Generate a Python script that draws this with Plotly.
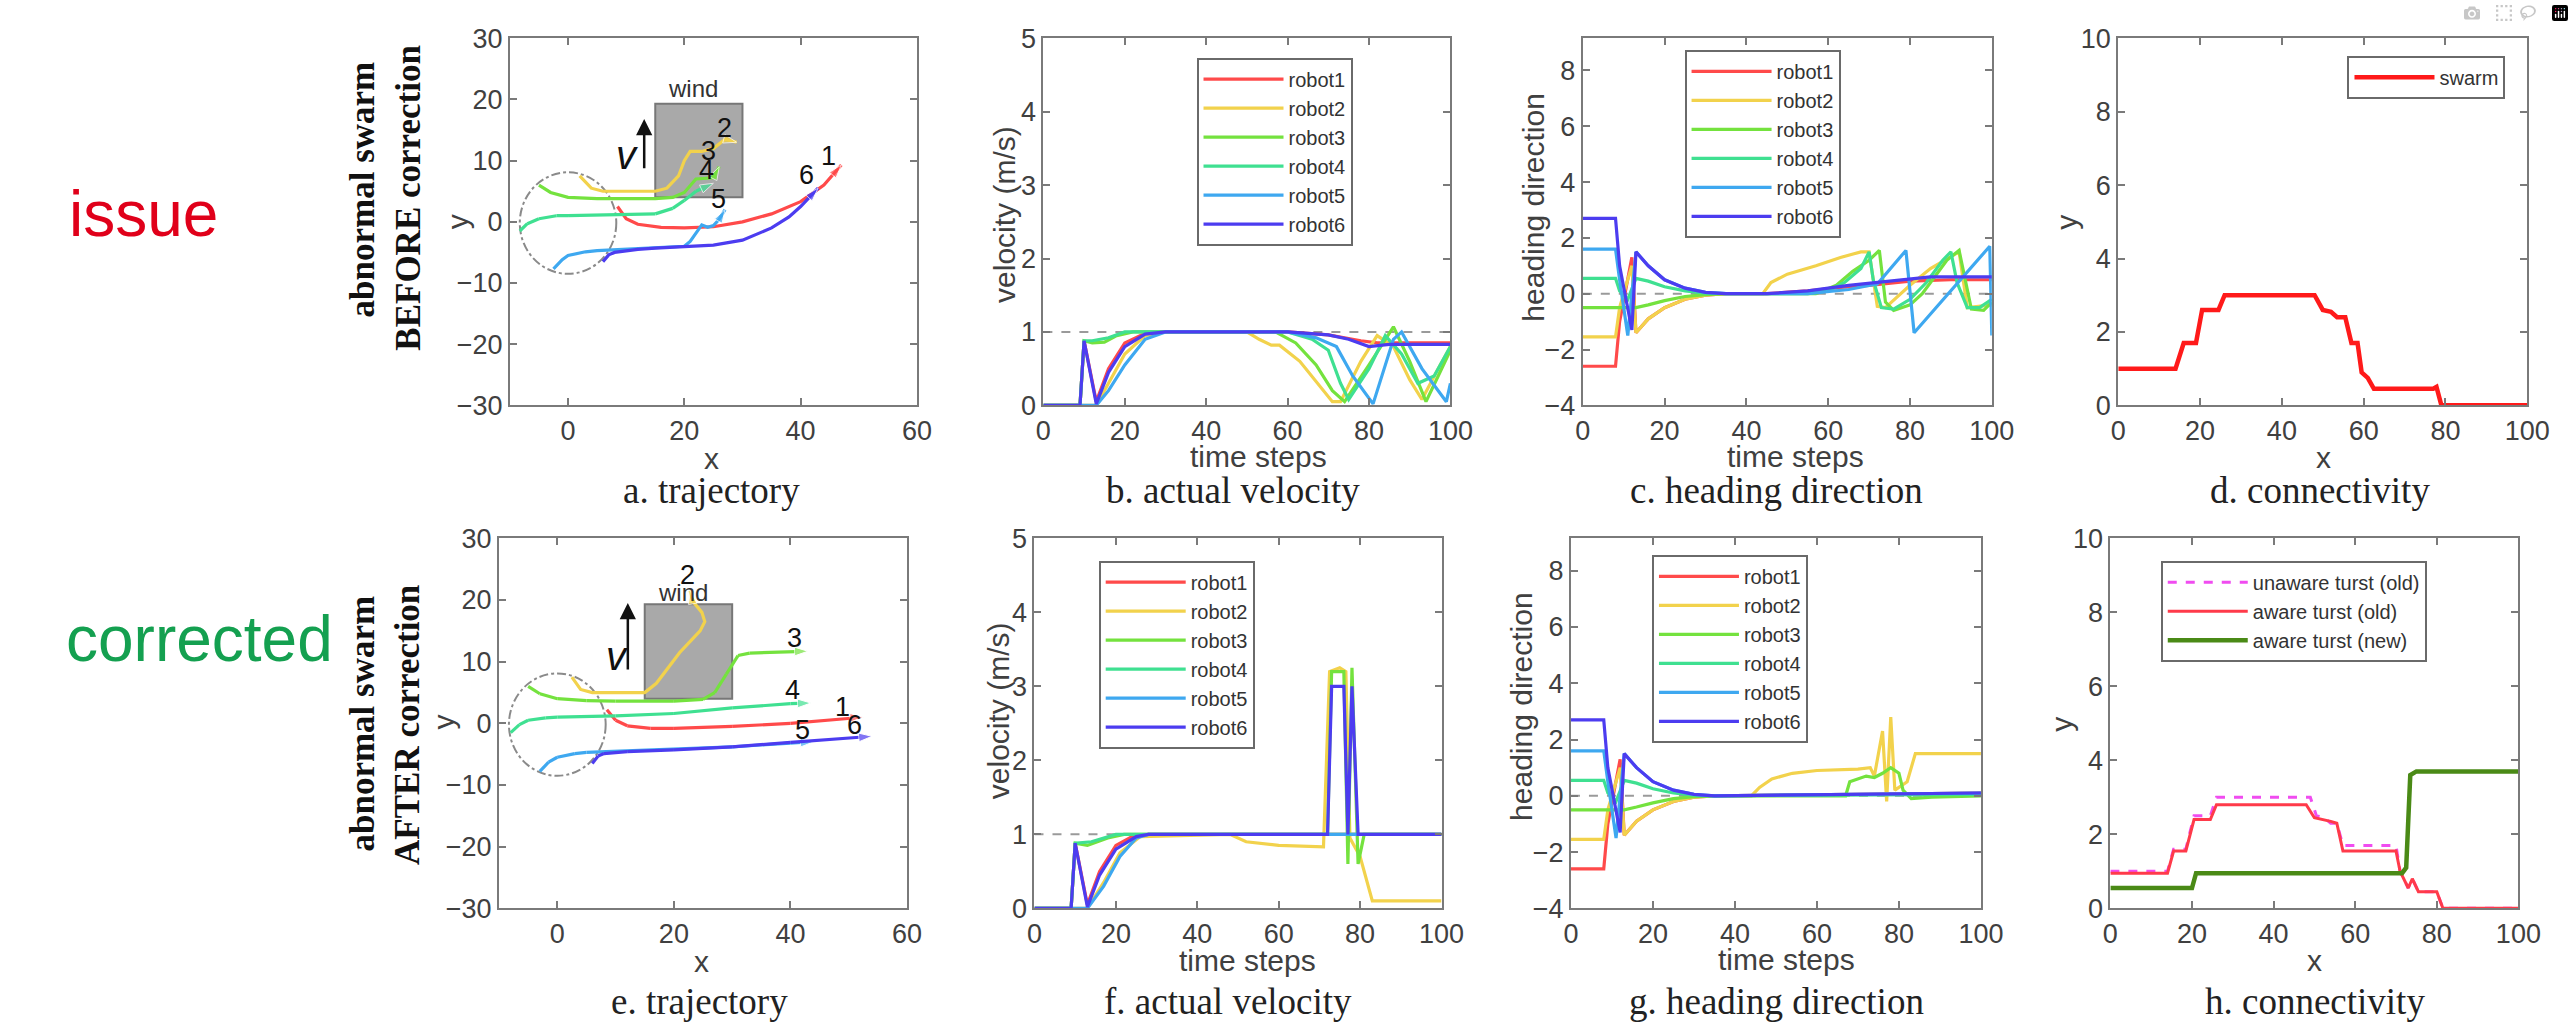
import plotly.graph_objects as go

W, H = 2574, 1035

robot_names = ["robot1", "robot2", "robot3", "robot4", "robot5", "robot6"]
robot_colors = ["#ff4a4a", "#f2d24c", "#74e23e", "#3fe091", "#3ea8f0", "#4c3cf0"]

# ---- a. trajectory (before correction) ----
traj_before_x = [
    [8.5, 10, 12, 16, 20, 25, 30, 35, 40, 44, 47],
    [2, 4, 6, 10, 15, 17, 19, 20, 21, 23, 25, 27, 29],
    [-5, -3, 0, 5, 10, 15, 18, 20, 22, 25, 26],
    [-8.3, -7, -5, -2, 0, 5, 10, 15, 18, 20, 22, 25],
    [-2.5, -1, 0, 3, 5, 10, 15, 20, 21, 22, 23, 24, 25, 26, 27],
    [6, 7, 8, 12, 15, 20, 25, 30, 35, 38, 40, 43],
]
traj_before_y = [
    [2.5, 0.5, -0.4, -0.9, -1.0, -0.8, 0, 1.3, 3.3, 6, 9.3],
    [7.5, 5.5, 5, 5, 5, 5.5, 7.5, 10, 11.5, 11.5, 12, 13.5, 13],
    [6, 4.8, 4, 3.8, 3.8, 3.8, 4, 4.8, 7, 7.2, 9],
    [-1.5, -0.3, 0.5, 1, 1, 1.1, 1.1, 1.3, 2.2, 3.5, 5, 6.3],
    [-7.7, -6.2, -5.5, -4.9, -4.7, -4.5, -4.3, -4, -3.2, -1.8, -0.5, -0.9, -0.6, 0.4, 2],
    [-6.5, -5.4, -5, -4.5, -4.3, -4.1, -3.8, -3, -1, 0.8, 2.5, 5.5],
]
traj_labels = ["1", "2", "3", "4", "5", "6"]

# ---- e. trajectory (after correction) ----
traj_after_x = [
    [8.5, 10, 12, 16, 20, 30, 40, 45, 50, 52.5],
    [2.5, 4, 6, 10, 15, 17, 19, 21, 23, 24.5, 25.3, 24.8, 23.5, 23, 22.8],
    [-5, -3, 0, 5, 10, 20, 25, 27, 29, 31, 33, 38, 43],
    [-8, -6.5, -5, -2, 0, 5, 10, 20, 30, 40, 43.5],
    [-3, -1.5, 0, 3, 5, 10, 20, 30, 40, 44],
    [6, 7, 8, 12, 20, 30, 40, 50, 54],
]
traj_after_y = [
    [2.2, 0.5, -0.4, -0.8, -0.8, -0.5, 0, 0.4, 0.9, 1],
    [7.5, 5.5, 5, 5, 5, 6.5, 9, 11.5, 13.5, 15, 16.5, 18, 19.5, 20.5, 21.5],
    [6, 4.8, 4, 3.7, 3.6, 3.6, 3.9, 5, 8, 11, 11.4, 11.6, 11.7],
    [-1.5, -0.2, 0.5, 0.9, 1, 1.1, 1.2, 1.6, 2.5, 3.2, 3.3],
    [-7.8, -6.3, -5.5, -4.9, -4.7, -4.5, -4.2, -3.8, -3.2, -3],
    [-6.5, -5.3, -4.9, -4.6, -4.3, -3.8, -3.1, -2.4, -2.1],
]

# initial formation circle and wind region (data units)
circle_center = (0, -0.2)
circle_radius = 8.3
wind_box_x = (15, 30)
wind_box_y = (4, 19.3)

# ---- b. actual velocity (before) ----
vel_before_t = [
    [0, 9, 10, 13, 16, 20, 25, 30, 60, 70, 78, 82, 100],
    [0, 13, 16, 20, 25, 30, 50, 53, 56, 58, 63, 68, 71, 73, 78, 82, 86, 90, 93, 97, 100],
    [0, 9, 10, 12, 15, 18, 22, 57, 62, 67, 71, 74, 80, 86, 90, 94, 97, 100],
    [0, 9, 10, 12, 16, 20, 60, 66, 70, 73, 75, 80, 84, 88, 92, 96, 100],
    [0, 13, 16, 20, 25, 30, 60, 67, 72, 76, 81, 86, 88, 93, 99, 100],
    [0, 9, 10, 13, 16, 20, 25, 30, 60, 70, 75, 80, 85, 100],
]
vel_before_v = [
    [0, 0, 0.88, 0.05, 0.5, 0.85, 0.98, 1, 1, 0.96, 0.88, 0.85, 0.85],
    [0, 0, 0.3, 0.7, 0.95, 1, 1, 0.9, 0.82, 0.82, 0.6, 0.25, 0.05, 0.05, 0.6, 0.95, 0.8, 0.35, 0.08, 0.5, 0.8],
    [0, 0, 0.88, 0.85, 0.86, 0.95, 1, 1, 0.85, 0.55, 0.2, 0.05, 0.55, 1.07, 0.6, 0.05, 0.4, 0.75],
    [0, 0, 0.88, 0.88, 0.92, 1, 1, 0.9, 0.75, 0.3, 0.08, 0.5, 0.95, 0.7, 0.3, 0.4, 0.8],
    [0, 0, 0.2, 0.55, 0.9, 1, 1, 0.92, 0.8, 0.4, 0.02, 0.9, 1.0, 0.5, 0.05, 0.3],
    [0, 0, 0.88, 0.02, 0.45, 0.8, 0.97, 1, 1, 0.96, 0.9, 0.8, 0.83, 0.83],
]

# ---- c. heading direction (before) ----
head_before_t = [
    [0, 8, 9, 12, 13, 16, 20, 25, 30, 35, 45, 55, 65, 70, 80, 90, 100],
    [0, 8, 9, 12, 13, 16, 20, 25, 30, 35, 44, 46, 50, 57, 63, 68, 70, 71, 72, 74, 80, 85, 92, 94, 100],
    [0, 8, 10, 13, 16, 20, 25, 30, 35, 57, 62, 66, 70, 72.5, 74, 76, 80, 83, 86, 89, 92, 93.5, 95, 98, 100],
    [0, 8, 9, 11, 13, 16, 20, 25, 30, 35, 55, 60, 64, 68, 70, 71, 73, 76, 80, 84, 88, 90, 91.5, 94, 97, 100],
    [0, 8, 9, 11, 13, 16, 20, 25, 30, 35, 55, 65, 70, 72, 79, 81, 99.5, 100],
    [0, 8, 9, 12, 13, 16, 20, 25, 30, 35, 45, 55, 65, 75, 80, 85, 100],
]
head_before_v = [
    [-2.6, -2.6, -1.0, 1.3, -1.4, -0.9, -0.5, -0.2, -0.05, 0, 0, 0.1, 0.25, 0.3, 0.45, 0.5, 0.5],
    [-1.55, -1.55, -0.5, 1.0, -1.4, -0.9, -0.5, -0.2, -0.05, 0, 0, 0.4, 0.7, 1.0, 1.3, 1.5, 1.5, 0.5, -0.45, -0.5, 0.3, 0.9, 1.5, -0.5, -0.4],
    [-0.5, -0.5, -0.5, -0.5, -0.4, -0.25, -0.1, -0.03, 0, 0, 0.3, 0.8, 1.2, 1.55, -0.3, -0.6, -0.4, 0, 0.6, 1.2, 1.55, 0.5, -0.55, -0.6, -0.3],
    [0.55, 0.55, 0.1, -0.2, 0.55, 0.45, 0.25, 0.1, 0.02, 0, 0, 0.1, 0.4, 0.9, 1.5, 0.5, -0.5, -0.55, -0.2, 0.4, 1.2, 1.5, 0.4, -0.5, -0.5, -0.2],
    [1.6, 1.6, 0.5, -1.5, 1.5, 1.0, 0.5, 0.2, 0.05, 0, 0, 0.15, 0.3, 0.35, 1.55, -1.4, 1.7, -1.5],
    [2.7, 2.7, 1.0, -1.3, 1.5, 1.0, 0.5, 0.2, 0.05, 0, 0, 0.1, 0.3, 0.45, 0.55, 0.6, 0.6],
]

# ---- d. connectivity (before) ----
swarm_t = [0, 14, 16, 19, 20.5, 24.5, 26, 48, 50, 52, 53.5, 55.5, 57, 58.5, 59.5, 61, 62.5, 77, 77.8, 79, 100]
swarm_v = [1, 1, 1.7, 1.7, 2.6, 2.6, 3, 3, 2.6, 2.55, 2.4, 2.4, 1.7, 1.7, 0.9, 0.75, 0.45, 0.45, 0.5, 0, 0]

# ---- f. actual velocity (after) ----
vel_after_t = [
    [0, 9, 10, 13, 16, 20, 24, 28, 100],
    [0, 13, 17, 21, 26, 48, 52, 60, 71, 72.5, 75, 76.5, 77.5, 80, 83, 100],
    [0, 9, 10, 13, 18, 22, 72, 73, 76, 77, 78, 79.5, 81, 100],
    [0, 9, 10, 14, 20, 100],
    [0, 13, 17, 21, 25, 28, 100],
    [0, 9, 10, 13, 16, 20, 25, 28, 72, 73, 76, 77, 78, 79.5, 100],
]
vel_after_v = [
    [0, 0, 0.88, 0.05, 0.5, 0.85, 0.97, 1, 1],
    [0, 0, 0.35, 0.75, 0.97, 1, 0.9, 0.85, 0.83, 3.2, 3.25, 3.2, 0.95, 0.7, 0.1, 0.1],
    [0, 0, 0.88, 0.85, 0.95, 1, 1, 3.2, 3.2, 0.6, 3.25, 0.6, 1, 1],
    [0, 0, 0.88, 0.9, 1, 1],
    [0, 0, 0.3, 0.7, 0.95, 1, 1],
    [0, 0, 0.88, 0.02, 0.45, 0.8, 0.97, 1, 1, 3.0, 3.0, 1, 3.0, 1, 1],
]

# ---- g. heading direction (after) ----
head_after_t = [
    [0, 8, 9, 12, 13, 16, 20, 25, 30, 35, 70, 100],
    [0, 8, 9, 12, 13, 16, 20, 25, 30, 35, 44, 46, 49, 54, 60, 70, 73, 74, 76, 77, 78, 79, 82, 84, 100],
    [0, 8, 10, 13, 16, 20, 25, 30, 35, 67, 68, 72, 74, 76, 78, 80, 81, 83, 88, 100],
    [0, 8, 9, 11, 13, 16, 20, 25, 30, 35, 100],
    [0, 8, 9, 11, 13, 16, 20, 25, 30, 35, 100],
    [0, 8, 9, 12, 13, 16, 20, 25, 30, 35, 100],
]
head_after_v = [
    [-2.6, -2.6, -1.0, 1.3, -1.4, -0.9, -0.5, -0.2, -0.05, 0, 0.05, 0.1],
    [-1.55, -1.55, -0.5, 1.0, -1.4, -0.9, -0.5, -0.2, -0.05, 0, 0, 0.3, 0.6, 0.8, 0.9, 0.95, 1.0, 0.7, 2.3, -0.2, 2.8, 0.2, 0.5, 1.5, 1.5],
    [-0.5, -0.5, -0.5, -0.5, -0.4, -0.25, -0.1, -0.03, 0, 0, 0.5, 0.7, 0.65, 0.8, 1.0, 0.8, 0.2, -0.1, -0.05, 0],
    [0.55, 0.55, 0.1, -0.2, 0.55, 0.45, 0.25, 0.1, 0.02, 0, 0.05],
    [1.6, 1.6, 0.5, -1.5, 1.5, 1.0, 0.5, 0.2, 0.05, 0, 0.1],
    [2.7, 2.7, 1.0, -1.3, 1.5, 1.0, 0.5, 0.2, 0.05, 0, 0.1],
]

# ---- h. connectivity (after) ----
trust_names = ["unaware turst (old)", "aware turst (old)", "aware turst (new)"]
unaware_old_t = [0, 14, 15.5, 18.5, 20.5, 24.5, 26, 49, 50.5, 52.5, 54, 55.5, 57, 70, 71, 73, 74, 75.5, 80, 81.5, 100]
unaware_old_v = [1.0, 1.0, 1.6, 1.6, 2.5, 2.5, 3.0, 3.0, 2.5, 2.45, 2.3, 2.3, 1.7, 1.7, 1.0, 0.55, 0.8, 0.45, 0.45, 0, 0]
aware_old_t = [0, 14, 15.5, 18.5, 20.5, 24.5, 26, 48, 50, 52.5, 54, 55.5, 57, 70, 71, 73, 74, 75.5, 80, 81.5, 100]
aware_old_v = [0.95, 0.95, 1.55, 1.55, 2.4, 2.4, 2.8, 2.8, 2.45, 2.4, 2.35, 2.3, 1.55, 1.55, 1.0, 0.55, 0.8, 0.45, 0.45, 0, 0]
aware_new_t = [0, 20, 21, 71.5, 72.5, 73.5, 75, 100]
aware_new_v = [0.55, 0.55, 0.95, 0.95, 1.1, 3.6, 3.7, 3.7]

captions = ["a. trajectory", "b. actual velocity", "c. heading direction", "d. connectivity",
            "e. trajectory", "f. actual velocity", "g. heading direction", "h. connectivity"]
x_titles = ["x", "time steps", "time steps", "x", "x", "time steps", "time steps", "x"]
y_titles = ["y", "velocity (m/s)", "heading direction", "y", "y", "velocity (m/s)", "heading direction", "y"]

# ---------------- layout geometry (pixels) ----------------
col_px = [(508, 920), (1048, 1460), (1594, 2008), (2136, 2550),
          (497, 910), (1039, 1451), (1582, 1997), (2128, 2541)]
row_px = [(24, 402)] * 4 + [(539, 920)] * 4
caption_px = [(712, 490), (1240, 490), (1790, 490), (2340, 490),
              (700, 1016), (1235, 1016), (1790, 1016), (2335, 1016)]
xtitle_px = [(712, 457), (1266, 455), (1809, 455), (2344, 456),
             (702, 975), (1255, 974), (1800, 973), (2335, 974)]
ytitle_px = [(455, 213), (1008, 205), (1544, 198), (2084, 213),
             (441, 728), (1002, 716), (1532, 712), (2079, 730)]

SANS = "Liberation Sans, Arial, sans-serif"
SERIF = "Liberation Serif, Times New Roman, serif"
TXT = "#404040"
AX = "#7a7a7a"


def xdom(i):
    a, b = col_px[i]
    return [a / W, b / W]


def ydom(i):
    t, b = row_px[i]
    return [1 - b / H, 1 - t / H]


def paper_text(px, py, text, size, color, family=SANS, angle=0):
    return dict(x=px / W, y=1 - py / H, xref="paper", yref="paper", text=text,
                showarrow=False, xanchor="center", yanchor="middle", textangle=angle,
                font=dict(family=family, size=size, color=color))


fig = go.Figure()


def ax_names(i):
    n = "" if i == 0 else str(i + 1)
    return "x" + n, "y" + n


def add_lines(i, xs, ys, names, colors, legend, widths=None, dashes=None):
    xa, ya = ax_names(i)
    for k in range(len(xs)):
        fig.add_trace(go.Scatter(
            x=xs[k], y=ys[k], mode="lines", name=names[k],
            line=dict(color=colors[k], width=widths[k] if widths else 3.2,
                      dash=dashes[k] if dashes else "solid"),
            xaxis=xa, yaxis=ya, legend=legend, showlegend=True,
        ))


def add_traj(i, xs, ys):
    xa, ya = ax_names(i)
    for k in range(len(xs)):
        n = len(xs[k])
        fig.add_trace(go.Scatter(
            x=xs[k], y=ys[k], mode="lines+markers",
            line=dict(color=robot_colors[k], width=3.2),
            marker=dict(symbol="arrow", size=[0] * (n - 1) + [14], angleref="previous",
                        color=robot_colors[k]),
            xaxis=xa, yaxis=ya, showlegend=False, hoverinfo="skip",
        ))


add_traj(0, traj_before_x, traj_before_y)
add_lines(1, vel_before_t, vel_before_v, robot_names, robot_colors, "legend")
add_lines(2, head_before_t, head_before_v, robot_names, robot_colors, "legend2")
add_lines(3, [swarm_t], [swarm_v], ["swarm"], ["#ff1a1a"], "legend3", widths=[4.5])
add_traj(4, traj_after_x, traj_after_y)
add_lines(5, vel_after_t, vel_after_v, robot_names, robot_colors, "legend4")
add_lines(6, head_after_t, head_after_v, robot_names, robot_colors, "legend5")
add_lines(7, [unaware_old_t, aware_old_t, aware_new_t], [unaware_old_v, aware_old_v, aware_new_v],
          trust_names, ["#f04cf0", "#ff3a4a", "#4a8a16"], "legend6",
          widths=[3, 3, 4.5], dashes=["dash", "solid", "solid"])

axis_base = dict(showline=True, linecolor=AX, linewidth=2, mirror="ticks", ticks="inside",
                 ticklen=7, tickwidth=1.5, tickcolor=AX, showgrid=False, zeroline=False,
                 fixedrange=True, tickfont=dict(family=SANS, size=27, color=TXT))

panels = [
    dict(xr=[-10, 60], xt=[0, 20, 40, 60], yr=[-30, 30], yt=list(range(-30, 31, 10))),
    dict(xr=[0, 100], xt=list(range(0, 101, 20)), yr=[0, 5], yt=[0, 1, 2, 3, 4, 5]),
    dict(xr=[0, 100], xt=list(range(0, 101, 20)), yr=[-4, 9.15], yt=[-4, -2, 0, 2, 4, 6, 8]),
    dict(xr=[0, 100], xt=list(range(0, 101, 20)), yr=[0, 10], yt=[0, 2, 4, 6, 8, 10]),
]
panels = panels + panels

layout = dict(width=W, height=H, margin=dict(l=0, r=0, t=0, b=0), paper_bgcolor="white",
              plot_bgcolor="white", showlegend=True)
for i in range(8):
    p = panels[i]
    n = "" if i == 0 else str(i + 1)
    xa, ya = ax_names(i)
    layout["xaxis" + n] = dict(axis_base, domain=xdom(i), range=p["xr"], tickvals=p["xt"], anchor=ya)
    layout["yaxis" + n] = dict(axis_base, domain=ydom(i), range=p["yr"], tickvals=p["yt"], anchor=xa)

legend_base = dict(bgcolor="white", bordercolor="#6a6a6a", borderwidth=2, itemwidth=80,
                   font=dict(family=SANS, size=20, color="#333333"), xanchor="left",
                   yanchor="top", tracegroupgap=0)
legend_px = [(1203, 44), (1697, 36), (2368, 42), (1104, 562), (1664, 556), (2179, 562)]
for j, (lx, ly) in enumerate(legend_px):
    key = "legend" if j == 0 else "legend" + str(j + 1)
    layout[key] = dict(legend_base, x=lx / W, y=1 - ly / H)

shapes = []
annotations = []

# reference lines
for i, yref_val in [(1, 1), (5, 1), (2, 0), (6, 0)]:
    xa, ya = ax_names(i)
    shapes.append(dict(type="line", xref=xa, yref=ya, x0=0, x1=100, y0=yref_val, y1=yref_val,
                       line=dict(color="#9a9a9a", width=2, dash="dash"), layer="below"))

# formation circle, wind box, v arrow, robot labels
label_pos = [
    [(44.8, 10.8), (26.9, 15.4), (24.1, 11.6), (23.8, 8.4), (25.9, 3.8), (41, 7.6)],
    [(49, 2.7), (22.4, 24), (40.7, 13.8), (40.3, 5.4), (42, -1.1), (51, -0.3)],
]
for r, i in enumerate([0, 4]):
    xa, ya = ax_names(i)
    cx, cy = circle_center
    shapes.append(dict(type="circle", xref=xa, yref=ya, x0=cx - circle_radius, x1=cx + circle_radius,
                       y0=cy - circle_radius, y1=cy + circle_radius,
                       line=dict(color="#8a8a8a", width=2, dash="dashdot"), layer="below"))
    shapes.append(dict(type="rect", xref=xa, yref=ya, x0=wind_box_x[0], x1=wind_box_x[1],
                       y0=wind_box_y[0], y1=wind_box_y[1], fillcolor="#a9a9a9",
                       line=dict(color="#777777", width=2), layer="below"))
    annotations.append(dict(x=21.5, y=21.8 if r == 0 else 21.3, xref=xa, yref=ya, text="wind",
                            showarrow=False, font=dict(family=SANS, size=24, color="#333")))
    ax_x = 13.1 if r == 0 else 12.1
    annotations.append(dict(x=ax_x, y=16.8 if r == 0 else 19.5, ax=ax_x, ay=8.5, xref=xa, yref=ya,
                            axref=xa, ayref=ya, text="", showarrow=True, arrowhead=2,
                            arrowsize=1.3, arrowwidth=2.5, arrowcolor="#111"))
    annotations.append(dict(x=10.2, y=11, xref=xa, yref=ya, text="<i>v</i>", showarrow=False,
                            font=dict(family=SANS, size=40, color="#111")))
    for k, (lx, ly) in enumerate(label_pos[r]):
        annotations.append(dict(x=lx, y=ly, xref=xa, yref=ya, text=traj_labels[k],
                                showarrow=False, font=dict(family=SANS, size=27, color="#111")))

# axis titles and captions
for i in range(8):
    annotations.append(paper_text(*xtitle_px[i], x_titles[i], 30, TXT))
    annotations.append(paper_text(*ytitle_px[i], y_titles[i], 30, TXT, angle=-90))
    annotations.append(paper_text(*caption_px[i], captions[i], 37, "#222", family=SERIF))

# row labels
annotations.append(paper_text(359, 180, "<b>abnormal swarm</b>", 35, "#111", SERIF, -90))
annotations.append(paper_text(405, 188, "<b>BEFORE correction</b>", 35, "#111", SERIF, -90))
annotations.append(paper_text(359, 730, "<b>abnormal swarm</b>", 35, "#111", SERIF, -90))
annotations.append(paper_text(405, 731, "<b>AFTER correction</b>", 35, "#111", SERIF, -90))
annotations.append(paper_text(137, 205, "issue", 64, "#e0001a"))
annotations.append(paper_text(194, 643, "corrected", 64, "#14a050"))

layout["shapes"] = shapes
layout["annotations"] = annotations
fig.update_layout(layout)

fig.write_html("out.html", post_script="document.body.style.margin='0px';")
